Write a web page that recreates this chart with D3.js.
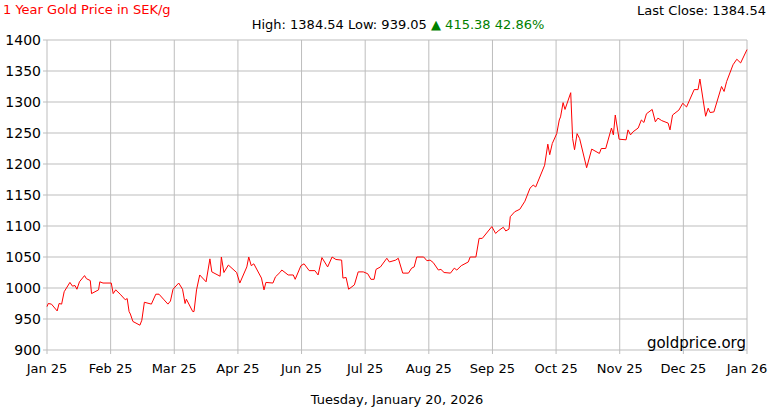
<!DOCTYPE html>
<html>
<head>
<meta charset="utf-8">
<script src="https://cdn.jsdelivr.net/npm/d3@7"></script>
<style>
body{margin:0;background:#fff}
text{font-family:"DejaVu Sans",Verdana,sans-serif}
</style>
</head>
<body>
<div id="canvas"></div>
<script>
// month labels, one per gridline
const monthLabels = ['Jan 25','Feb 25','Mar 25','Apr 25','Jun 25','Jul 25','Aug 25','Sep 25','Oct 25','Nov 25','Dec 25','Jan 26']
const yTicks = [900,950,1000,1050,1100,1150,1200,1250,1300,1350,1400]
// position along the month axis (0 = Jan 25, 11 = Jan 26)
const pos = [0,0.02,0.07,0.16,0.19,0.23,0.27,0.36,0.40,0.44,0.47,0.51,0.59,0.62,0.68,0.70,0.81,0.83,0.88,1.01,1.04,1.08,1.15,1.23,1.26,1.29,1.31,1.35,1.46,1.49,1.53,1.64,1.71,1.76,1.83,1.90,1.94,1.98,2.07,2.13,2.17,2.19,2.29,2.31,2.35,2.40,2.50,2.56,2.59,2.72,2.74,2.78,2.85,2.98,3.03,3.14,3.17,3.21,3.25,3.37,3.41,3.44,3.55,3.59,3.66,
  3.69,3.79,3.87,3.90,3.99,4.04,4.12,4.21,4.26,4.32,4.41,4.48,4.54,4.63,4.65,4.70,4.74,4.83,4.89,4.97,5.04,5.09,5.14,5.17,5.24,5.34,5.38,5.48,5.52,5.59,5.68,5.73,5.77,5.81,5.92,5.97,6.02,6.07,6.15,6.19,6.24,6.34,6.40,6.44,6.51,6.62,6.65,6.74,6.79,6.84,6.99,7.05,7.09,7.17,7.21,7.26,7.28,7.35,7.43,7.51,
  7.59,7.64,7.68,7.82,7.87,7.90,7.94,8.01,8.05,8.07,8.11,8.14,8.23,8.26,8.29,8.33,8.37,8.48,8.56,8.68,8.71,8.78,8.87,8.90,8.93,8.99,9.10,9.13,9.17,9.21,9.29,9.34,9.38,9.42,9.51,9.56,9.60,9.66,9.76,9.79,9.83,9.93,9.99,10.05,10.17,10.23,10.26,10.35,10.39,10.42,10.48,10.60,10.64,10.68,10.78,10.84,10.90,11.0]
const price = [970,975,974,963,975,974,994,1009,1003,1004,998,1010,1020,1015,1012,991,997,1010,1008,1008,991,997,990,981,983,962,958,946,940,948,977,974,990,990,982,974,979,998,1008,998,975,982,962,962,997,1021,1010,1047,1026,1019,1050,1025,1037,1025,1008,1034,1050,1036,1039,1016,997,1009,1008,1018,1025,
  1029,1021,1021,1014,1036,1039,1028,1028,1021,1049,1034,1050,1046,1045,1016,1017,998,1005,1026,1026,1023,1014,1014,1030,1034,1048,1042,1045,1048,1024,1024,1032,1034,1050,1050,1044,1045,1041,1029,1030,1025,1024,1032,1029,1036,1042,1050,1050,1080,1080,1099,1088,1092,1098,1092,1095,1115,1123,1127,1140,
  1161,1166,1163,1198,1232,1215,1233,1249,1271,1276,1299,1288,1315,1241,1223,1249,1241,1194,1224,1217,1225,1225,1258,1247,1279,1240,1239,1255,1247,1252,1258,1271,1267,1281,1288,1268,1274,1270,1266,1255,1279,1287,1298,1292,1320,1320,1337,1277,1290,1283,1284,1325,1317,1333,1360,1369,1363,1384.54]

const margin = {top:40,left:47,right:23,bottom:60}
let width = 770
let height = 410

const svg = d3.select('#canvas').append('svg')
  .attr('width',width).attr('height',height)

let x = d3.scaleLinear().domain([0,11]).range([margin.left, width-margin.right])
let y = d3.scaleLinear().domain([900,1400]).range([height-margin.bottom, margin.top])

let g = svg.append('g')
g.selectAll('.vg').data(monthLabels).enter().append('line')
  .attr('x1',(d,i)=>x(i)).attr('x2',(d,i)=>x(i))
  .attr('y1',y(1400)).attr('y2',y(900)+4)
  .attr('stroke','#bdbdbd')
g.selectAll('.hg').data(yTicks).enter().append('line')
  .attr('x1',x(0)-4).attr('x2',x(11))
  .attr('y1',d=>y(d)).attr('y2',d=>y(d))
  .attr('stroke','#bdbdbd')

g.selectAll('.yl').data(yTicks).enter().append('text')
  .text(d=>d).attr('x',x(0)-6).attr('y',d=>y(d)+5)
  .attr('text-anchor','end').attr('font-size',14)
g.selectAll('.xl').data(monthLabels).enter().append('text')
  .text(d=>d).attr('x',(d,i)=>x(i)).attr('y',y(900)+23)
  .attr('text-anchor','middle').attr('font-size',13)

let line = d3.line().x((d,i)=>x(pos[i])).y(d=>y(d))
g.append('path').datum(price).attr('d',line)
  .attr('fill','none').attr('stroke','#ff0000').attr('stroke-width',1)

svg.append('text').text('1 Year Gold Price in SEK/g')
  .attr('x',3).attr('y',14).attr('fill','#ff0000').attr('font-size',13)
svg.append('text').text('Last Close: 1384.54')
  .attr('x',766).attr('y',15).attr('text-anchor','end').attr('font-size',13)
let hl = svg.append('text').attr('x',398).attr('y',29).attr('text-anchor','middle').attr('font-size',13)
hl.append('tspan').text('High: 1384.54 Low: 939.05 ')
hl.append('tspan').text('\u25B2 415.38 42.86%').attr('fill','#008000')
svg.append('text').text('goldprice.org')
  .attr('x',746).attr('y',348).attr('text-anchor','end').attr('font-size',15)
svg.append('text').text('Tuesday, January 20, 2026')
  .attr('x',397).attr('y',404).attr('text-anchor','middle').attr('font-size',13)
</script>
</body>
</html>
